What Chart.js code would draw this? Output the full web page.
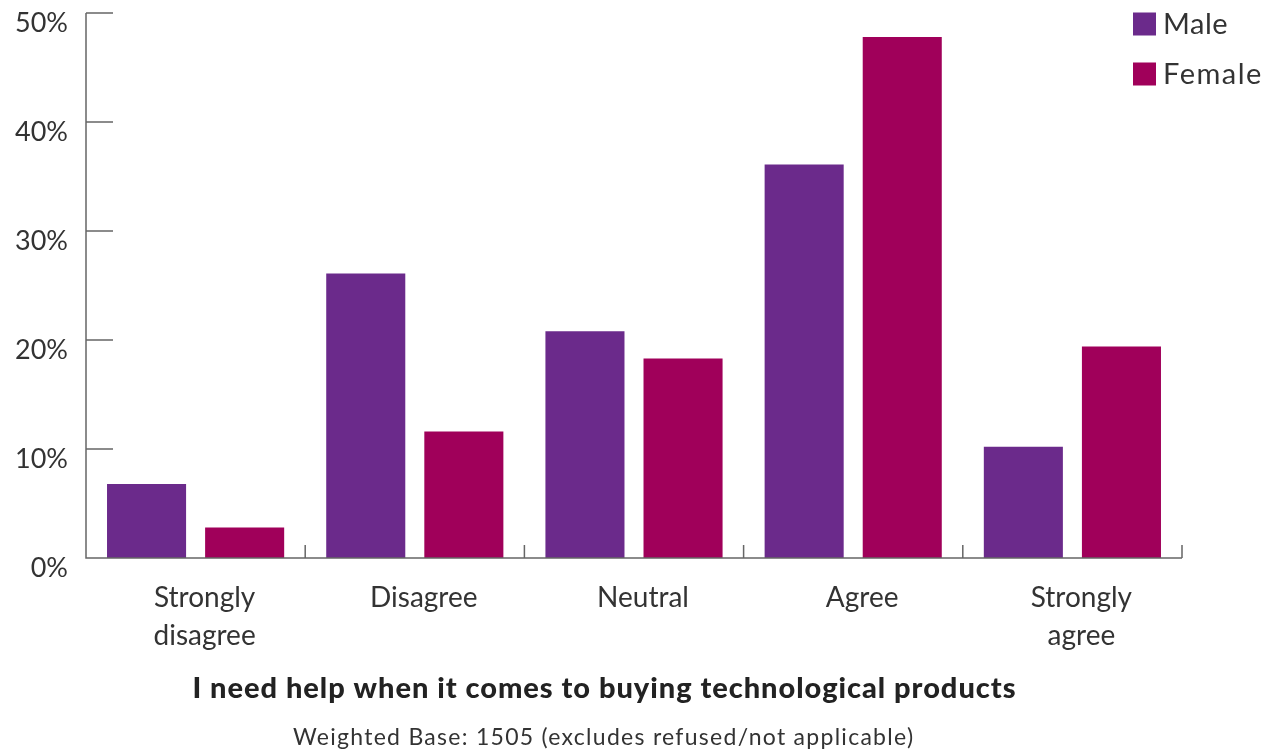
<!DOCTYPE html>
<html>
<head>
<meta charset="utf-8">
<script src="https://cdn.jsdelivr.net/npm/chart.js@4.4.1/dist/chart.umd.min.js"></script>
<style>
  html, body { margin: 0; padding: 0; background: #fff; }
  #wrap { width: 1265px; height: 754px; position: relative; }
</style>
</head>
<body>
<div id="wrap"><canvas id="c" width="1265" height="754"></canvas></div>
<script>
// Survey responses by gender (% of respondents)
const categories = [["Strongly", "disagree"], "Disagree", "Neutral", "Agree", ["Strongly", "agree"]];
const seriesNames = ["Male", "Female"];
const maleValues = [6.8, 26.1, 20.8, 36.1, 10.2];
const femaleValues = [2.8, 11.6, 18.3, 47.8, 19.4];
const yTicks = [0, 10, 20, 30, 40, 50];
const titleText = "I need help when it comes to buying technological products";
const subtitleText = "Weighted Base: 1505 (excludes refused/not applicable)";

const MALE = "#6b2a8b";
const FEMALE = "#a0005a";
const TEXT = "#333333";
const AXIS = "#666666";
const FONT = "Lato, 'Open Sans', sans-serif";

// Draw text centred at cx, spread with letter spacing to a target width
function spacedText(ctx, text, cx, cy, width) {
  ctx.letterSpacing = "0px";
  const w = ctx.measureText(text).width;
  const sp = Math.max(0, (width - w) / (text.length - 1));
  ctx.letterSpacing = sp.toFixed(2) + "px";
  const w2 = ctx.measureText(text).width;
  ctx.textAlign = "left";
  ctx.fillText(text, cx - (w2 - sp) / 2, cy);
  ctx.letterSpacing = "0px";
}

// Axis lines, inward tick marks, y labels, legend and captions
const decorations = {
  id: "decorations",
  afterDraw(chart) {
    const ctx = chart.ctx;
    const a = chart.chartArea;
    const xs = chart.scales.x, ys = chart.scales.y;
    ctx.save();
    ctx.strokeStyle = AXIS;
    ctx.lineWidth = 1.5;
    ctx.beginPath();
    ctx.moveTo(a.left, a.top);
    ctx.lineTo(a.left, a.bottom);
    ctx.lineTo(a.right, a.bottom);
    // y ticks pointing into the plot
    yTicks.forEach(v => {
      if (v === 0) return;
      const y = ys.getPixelForValue(v);
      ctx.moveTo(a.left, y);
      ctx.lineTo(a.left + 27, y);
    });
    // x ticks at category boundaries, pointing up
    const n = categories.length;
    const step = (a.right - a.left) / n;
    for (let i = 0; i <= n; i++) {
      const x = i === n ? a.right : (xs.getPixelForValue(i) - step / 2);
      ctx.moveTo(x, a.bottom);
      ctx.lineTo(x, a.bottom - 13);
    }
    ctx.stroke();

    // y tick labels, set just below their ticks
    ctx.fillStyle = TEXT;
    ctx.font = "27px " + FONT;
    ctx.textAlign = "right";
    ctx.textBaseline = "middle";
    yTicks.forEach(v => {
      ctx.fillText(v + "%", a.left - 18, ys.getPixelForValue(v) + 10);
    });

    // legend
    const colors = [MALE, FEMALE];
    ctx.font = "29px " + FONT;
    ctx.textAlign = "left";
    seriesNames.forEach((name, i) => {
      const cy = 24 + i * 50;
      ctx.fillStyle = colors[i];
      ctx.fillRect(1133, cy - 11.5, 23, 23);
      ctx.fillStyle = TEXT;
      ctx.letterSpacing = i === 1 ? "1.5px" : "0.5px";
      ctx.fillText(name, 1163, cy + 1);
      ctx.letterSpacing = "0px";
    });

    // captions
    ctx.fillStyle = "#222222";
    ctx.font = "900 29px " + FONT;
    spacedText(ctx, titleText, 604, 689, 823);
    ctx.fillStyle = TEXT;
    ctx.font = "23px " + FONT;
    spacedText(ctx, subtitleText, 603, 738, 620);
    ctx.restore();
  }
};

new Chart(document.getElementById("c"), {
  type: "bar",
  data: {
    labels: categories,
    datasets: [
      { label: seriesNames[0], data: maleValues, backgroundColor: MALE },
      { label: seriesNames[1], data: femaleValues, backgroundColor: FEMALE }
    ]
  },
  options: {
    responsive: false,
    animation: false,
    devicePixelRatio: 1,
    datasets: { bar: { categoryPercentage: 0.895, barPercentage: 0.806 } },
    layout: { padding: { top: 13, right: 83, left: 0, bottom: 0 } },
    plugins: {
      legend: { display: false },
      tooltip: { enabled: false }
    },
    scales: {
      x: {
        grid: { display: false, drawTicks: false },
        border: { display: false },
        ticks: {
          color: TEXT,
          font: { family: FONT, size: 28, lineHeight: 1.36 },
          padding: 21,
          labelOffset: 9,
          maxRotation: 0,
          autoSkip: false
        },
        afterFit(scale) { scale.height = 196; }
      },
      y: {
        min: 0,
        max: 50,
        grid: { display: false, drawTicks: false },
        border: { display: false },
        afterBuildTicks(scale) { scale.ticks = yTicks.map(v => ({ value: v })); },
        ticks: { display: false },
        afterFit(scale) { scale.width = 86; }
      }
    }
  },
  plugins: [decorations]
});
</script>
</body>
</html>
